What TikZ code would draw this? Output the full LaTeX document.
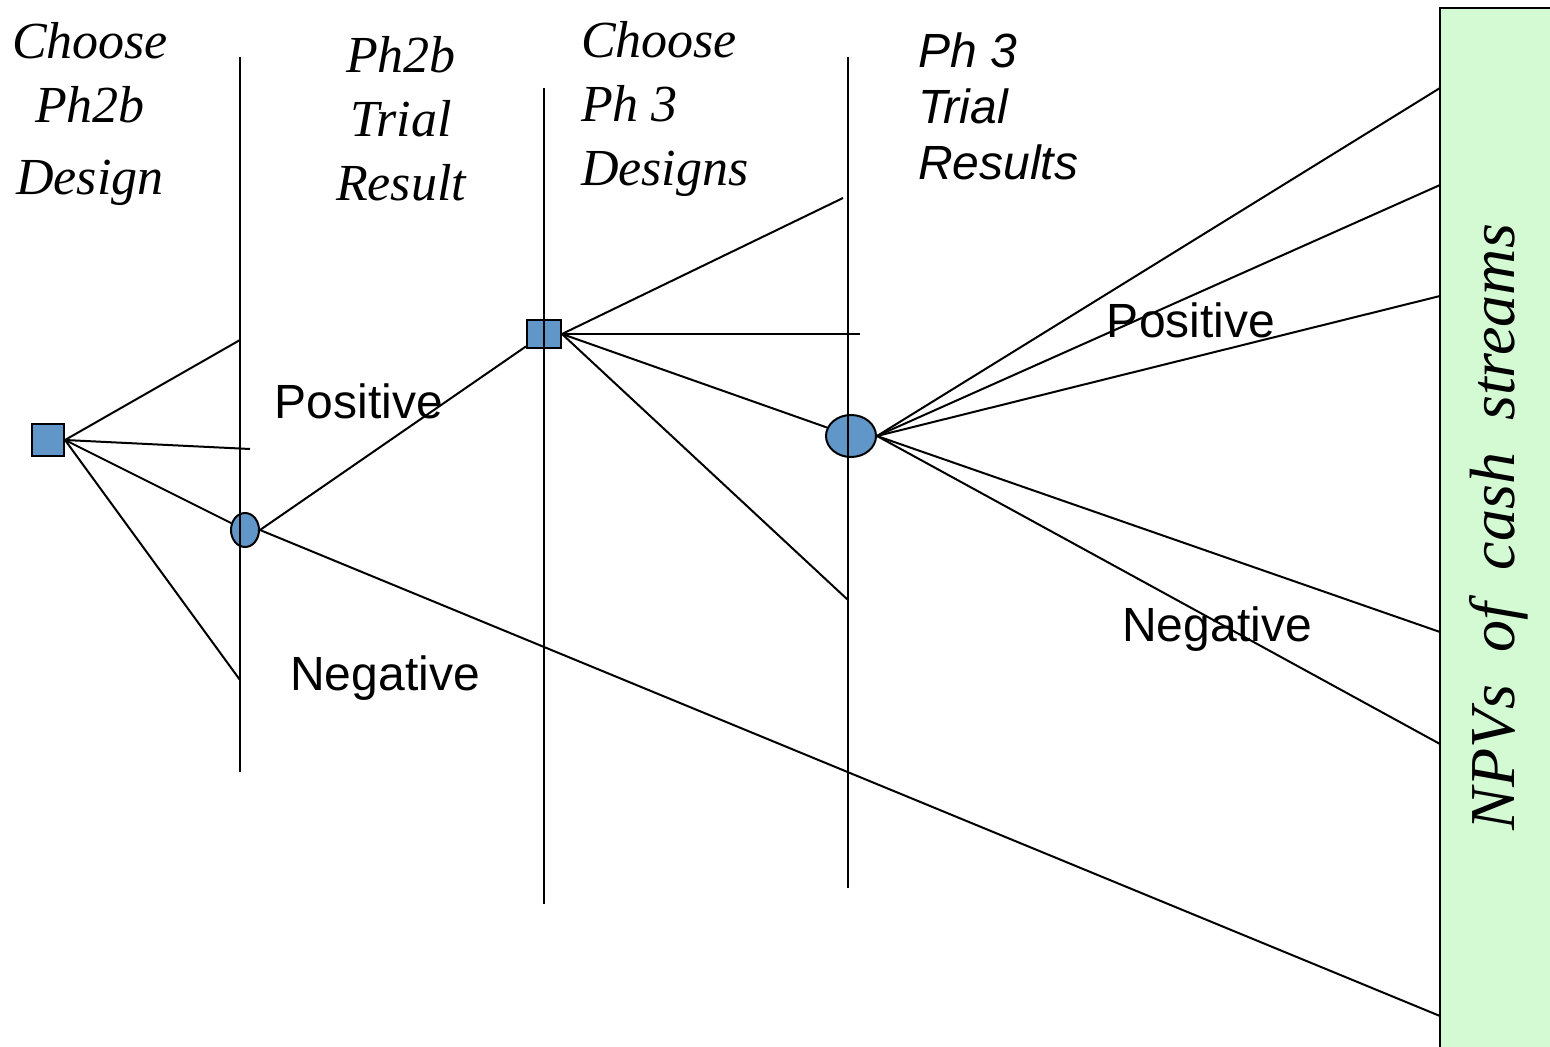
\documentclass[tikz,border=0pt]{standalone}
\usepackage{fontspec}
\setmainfont{Liberation Serif}
\newfontfamily\arialfont{Liberation Sans}
\usepackage{tikz}
\usetikzlibrary{shapes.geometric}
\definecolor{nodeblue}{RGB}{97,150,201}
\definecolor{npvgreen}{RGB}{212,250,212}

\begin{document}
\begin{tikzpicture}[x=0.5pt,y=-0.5pt,line width=1pt,
  dec/.style = {rectangle,draw,fill=nodeblue,inner sep=0pt},
  chance/.style = {ellipse,draw,fill=nodeblue,inner sep=0pt},
  stage/.style = {font=\fontsize{26}{32}\selectfont\itshape,inner sep=0pt},
  trialhead/.style = {font=\arialfont\itshape\fontsize{24}{28}\selectfont,inner sep=0pt},
  outcome/.style = {font=\arialfont\fontsize{24}{28}\selectfont,inner sep=0pt,anchor=base}]
 \useasboundingbox (0,0) rectangle (1550,1047);
 % payoff column
 \fill[npvgreen] (1440,8) rectangle (1570,1070);
 \draw (1440,1070) -- (1440,8) -- (1570,8);
 \node[rotate=90,font=\fontsize{32}{38}\selectfont\itshape,inner sep=0pt] (npv) at (1499,527)
   {\makebox[303pt][s]{NPVs of cash streams}};
 % stage headings
 \node[stage,align=center,anchor=north] (h1) at (90,21) {Choose\\Ph2b\\[4pt]Design};
 \node[stage,align=center,anchor=north] (h2) at (401,35) {Ph2b\\Trial\\Result};
 \node[stage,align=left,anchor=north west] (h3) at (580,20) {Choose\\Ph 3\\Designs};
 \node[trialhead,align=left,anchor=north west] (h4) at (917,32) {Ph 3\\Trial\\Results};
 % decision and chance nodes
 \node[dec,minimum width=16pt,minimum height=16pt] (d1) at (48,440) {};
 \node[chance,minimum width=14pt,minimum height=17pt] (c1) at (245,530) {};
 \node[dec,minimum width=17pt,minimum height=14pt] (d2) at (544,334) {};
 \node[chance,minimum width=25pt,minimum height=21pt] (c2) at (851,436) {};
 % free ends
 \coordinate (a1) at (240,340);
 \coordinate (a2) at (250,449);
 \coordinate (a3) at (240,680);
 \coordinate (b1) at (843,198);
 \coordinate (b2) at (860,334);
 \coordinate (b3) at (848,600);
 \coordinate (n1) at (1440,88);
 \coordinate (n2) at (1440,185);
 \coordinate (n3) at (1440,296);
 \coordinate (n4) at (1440,632);
 \coordinate (n5) at (1440,744);
 \coordinate (n6) at (1440,1016);
 \begin{scope}
  \path
  (d1.east) edge (a1)
  (d1.east) edge (a2)
  (d1.east) edge (c1)
  (d1.east) edge (a3)
  (c1.east) edge (d2)
  (c1.east) edge (n6)
  (d2.east) edge (b1)
  (d2.east) edge (b2)
  (d2.east) edge (c2)
  (d2.east) edge (b3)
  (c2.east) edge (n1)
  (c2.east) edge (n2)
  (c2.east) edge (n3)
  (c2.east) edge (n4)
  (c2.east) edge (n5);
 \end{scope}
 % stage lines
 \draw (240,57) -- (240,772);
 \draw (544,88) -- (544,904);
 \draw (848,57) -- (848,888);
 % outcomes
 \node[outcome] (p1) at (359,419) {Positive};
 \node[outcome] (m1) at (385,690) {Negative};
 \node[outcome] (p2) at (1191,338) {Positive};
 \node[outcome] (m2) at (1217,641) {Negative};
\end{tikzpicture}
\end{document}
